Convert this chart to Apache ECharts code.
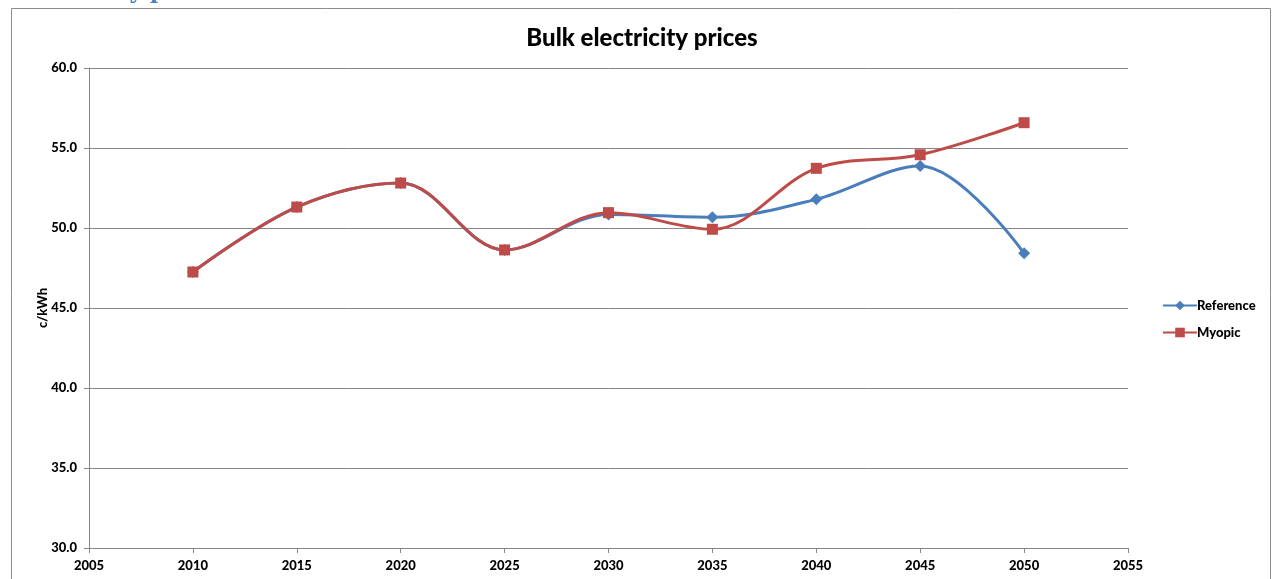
<!DOCTYPE html>
<html><head><meta charset="utf-8">
<script src="https://cdn.jsdelivr.net/npm/echarts@6/dist/echarts.min.js"></script>
<style>html,body{margin:0;padding:0;background:#fff}#c{width:1272px;height:579px}</style>
</head><body><div id="c"></div>
<script>
const years = [2010, 2015, 2020, 2025, 2030, 2035, 2040, 2045, 2050];
const reference = [47.25, 51.31, 52.81, 48.63, 50.85, 50.67, 51.79, 53.88, 48.42];
const myopic = [47.25, 51.31, 52.81, 48.63, 50.96, 49.92, 53.73, 54.58, 56.58];
const xTicks = [2005, 2055, 5];
const yTicks = [30, 60, 5];

const font = 'Lato, "Open Sans", "Liberation Sans", sans-serif';
const chart = echarts.init(document.getElementById('c'), null, {renderer: 'canvas'});
const pair = (xs, ys) => xs.map((x, i) => [x, ys[i]]);
chart.setOption({
  animation: false,
  backgroundColor: '#fff',
  title: {
    text: 'Bulk electricity prices', left: 637, top: 21, textAlign: 'center',
    textStyle: {fontFamily: font, fontWeight: 900, fontSize: 24, color: '#000'}
  },
  graphic: [
    {type: 'rect', shape: {x: 11.5, y: 8.5, width: 1259, height: 600}, style: {fill: 'none', stroke: '#8c8c8c', lineWidth: 1}, silent: true},
    {type: 'text', left: 15, top: -19, style: {text: 'Electricity prices', font: 'bold 22px "DejaVu Serif", serif', fill: '#4F81BD'}}
  ],
  legend: {
    orient: 'vertical', left: 1157, top: 294, itemGap: 14, itemWidth: 34, itemHeight: 12,
    textStyle: {fontFamily: font, fontWeight: 900, fontSize: 13, color: '#000', padding: [0, 0, 0, -5]},
    data: ['Reference', 'Myopic']
  },
  grid: {left: 89, right: 144, top: 68, bottom: 31, containLabel: false},
  xAxis: {
    type: 'value', min: xTicks[0], max: xTicks[1], interval: xTicks[2],
    axisLine: {show: true, onZero: false, lineStyle: {color: '#868686'}},
    axisTick: {show: true, length: 5, lineStyle: {color: '#868686'}},
    splitLine: {show: false},
    axisLabel: {fontFamily: font, fontWeight: 900, fontSize: 13, color: '#000', margin: 11,
      formatter: v => String(v)}
  },
  yAxis: {
    type: 'value', min: yTicks[0], max: yTicks[1], interval: yTicks[2],
    name: 'c/kWh', nameLocation: 'middle', nameGap: 40, nameRotate: 90, nameMoveOverlap: false,
    nameTextStyle: {fontFamily: font, fontWeight: 900, fontSize: 13, color: '#000'},
    axisLine: {show: true, lineStyle: {color: '#868686'}},
    axisTick: {show: true, length: 5, lineStyle: {color: '#868686'}},
    splitLine: {show: true, lineStyle: {color: '#868686', width: 1}},
    axisLabel: {fontFamily: font, fontWeight: 900, fontSize: 13, color: '#000', margin: 12,
      formatter: v => v.toFixed(1)}
  },
  series: [
    {name: 'Reference', type: 'line', smooth: 0.35, data: pair(years, reference),
      symbol: 'diamond', symbolSize: 12, color: '#4A7EBB',
      lineStyle: {width: 3, color: '#4A7EBB'}, itemStyle: {color: '#4A7EBB'}},
    {name: 'Myopic', type: 'line', smooth: 0.35, data: pair(years, myopic),
      symbol: 'rect', symbolSize: 11, color: '#BE4B48',
      lineStyle: {width: 3, color: '#BE4B48'}, itemStyle: {color: '#BE4B48'}}
  ]
});
</script></body></html>
